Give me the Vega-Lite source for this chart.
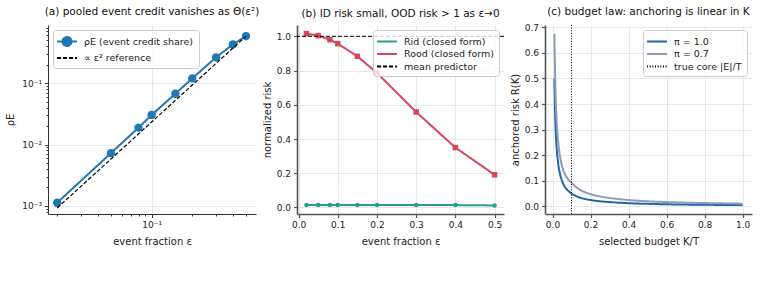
{
  "$schema": "https://vega.github.io/schema/vega-lite/v6.json",
  "background": "white",
  "padding": {"left": 5, "top": 6, "right": 5, "bottom": 5},
  "bounds": "flush",
  "spacing": 41,
  "resolve": {
    "scale": {"color": "independent", "strokeDash": "independent"},
    "legend": {"color": "independent", "strokeDash": "independent"}
  },
  "config": {
    "font": "DejaVu Sans",
    "view": {"stroke": null},
    "axis": {
      "labelFont": "DejaVu Sans",
      "titleFont": "DejaVu Sans",
      "labelFontSize": 9,
      "titleFontSize": 10,
      "labelColor": "#222222",
      "titleColor": "#222222",
      "titleFontWeight": "normal",
      "tickColor": "#333333",
      "domainColor": "#333333",
      "gridColor": "#e8e8e8",
      "tickSize": 3.5,
      "labelPadding": 3,
      "labelOverlap": false
    },
    "title": {"font": "DejaVu Sans", "fontSize": 10.5, "fontWeight": "normal", "color": "#111111", "offset": 6},
    "legend": {
      "title": null,
      "labelFont": "DejaVu Sans",
      "labelFontSize": 9.5,
      "labelColor": "#222222",
      "padding": 5,
      "rowPadding": 1.5,
      "symbolSize": 120,
      "symbolStrokeWidth": 2,
      "labelOffset": 13,
      "strokeColor": "#cccccc",
      "fillColor": "rgba(255,255,255,0.8)",
      "cornerRadius": 3,
      "offset": 5
    }
  },
  "hconcat": [
    {
      "width": 208,
      "height": 189,
      "title": "(a) pooled event credit vanishes as Θ(ε²)",
      "data": {
        "values": [
          {"eps": 0.02, "value": 0.00113, "series": "ρE (event credit share)"},
          {"eps": 0.05, "value": 0.00724, "series": "ρE (event credit share)"},
          {"eps": 0.08, "value": 0.0188, "series": "ρE (event credit share)"},
          {"eps": 0.1, "value": 0.0302, "series": "ρE (event credit share)"},
          {"eps": 0.15, "value": 0.067, "series": "ρE (event credit share)"},
          {"eps": 0.2, "value": 0.119, "series": "ρE (event credit share)"},
          {"eps": 0.3, "value": 0.262, "series": "ρE (event credit share)"},
          {"eps": 0.4, "value": 0.425, "series": "ρE (event credit share)"},
          {"eps": 0.5, "value": 0.581, "series": "ρE (event credit share)"},
          {"eps": 0.02, "value": 0.000928, "series": "∝ ε² reference"},
          {"eps": 0.05, "value": 0.0058, "series": "∝ ε² reference"},
          {"eps": 0.08, "value": 0.01485, "series": "∝ ε² reference"},
          {"eps": 0.1, "value": 0.0232, "series": "∝ ε² reference"},
          {"eps": 0.15, "value": 0.0522, "series": "∝ ε² reference"},
          {"eps": 0.2, "value": 0.0928, "series": "∝ ε² reference"},
          {"eps": 0.3, "value": 0.2088, "series": "∝ ε² reference"},
          {"eps": 0.4, "value": 0.3712, "series": "∝ ε² reference"},
          {"eps": 0.5, "value": 0.58, "series": "∝ ε² reference"}
        ]
      },
      "encoding": {
        "x": {
          "field": "eps", "type": "quantitative",
          "scale": {"type": "log", "domain": [0.0171, 0.593], "nice": false},
          "axis": {
            "title": "event fraction ε",
            "values": [0.02, 0.03, 0.04, 0.05, 0.06, 0.07, 0.08, 0.09, 0.1, 0.2, 0.3, 0.4, 0.5],
            "labelExpr": "datum.value == 0.1 ? '10⁻¹' : ''",
            "grid": true,
            "gridOpacity": {"condition": {"test": "datum.value == 0.1", "value": 1}, "value": 0},
            "tickSize": {"condition": {"test": "datum.value == 0.1", "value": 3.5}, "value": 2},
            "titlePadding": 7
          }
        },
        "y": {
          "field": "value", "type": "quantitative",
          "scale": {"type": "log", "domain": [0.00074, 0.88], "nice": false},
          "axis": {
            "title": "ρE",
            "values": [0.0008, 0.0009, 0.001, 0.002, 0.003, 0.004, 0.005, 0.006, 0.007, 0.008, 0.009, 0.01, 0.02, 0.03, 0.04, 0.05, 0.06, 0.07, 0.08, 0.09, 0.1, 0.2, 0.3, 0.4, 0.5, 0.6, 0.7, 0.8],
            "labelExpr": "datum.value == 0.001 ? '10⁻³' : datum.value == 0.01 ? '10⁻²' : datum.value == 0.1 ? '10⁻¹' : ''",
            "grid": true,
            "gridOpacity": {"condition": {"test": "datum.value == 0.001 || datum.value == 0.01 || datum.value == 0.1", "value": 1}, "value": 0},
            "tickSize": {"condition": {"test": "datum.value == 0.001 || datum.value == 0.01 || datum.value == 0.1", "value": 3.5}, "value": 2},
            "titlePadding": 6
          }
        }
      },
      "layer": [
        {
          "transform": [{"filter": "datum.series === 'ρE (event credit share)'"}],
          "mark": {"type": "line", "strokeWidth": 2},
          "encoding": {
            "color": {
              "field": "series", "type": "nominal",
              "scale": {"domain": ["ρE (event credit share)", "∝ ε² reference"], "range": ["#1f77b4", "#000000"]},
              "legend": {
                "orient": "top-left",
                "encode": {
                  "symbols": {
                    "update": {
                      "shape": {"signal": "datum.value === 'ρE (event credit share)' ? 'M-1.36,0H2.28M1.28,0A0.82,0.82,0,1,1,-0.36,0A0.82,0.82,0,1,1,1.28,0' : 'M-1.36,0H2.28'"},
                      "fill": {"signal": "datum.value === 'ρE (event credit share)' ? '#1f77b4' : 'transparent'"}
                    }
                  }
                }
              }
            },
            "strokeDash": {
              "field": "series", "type": "nominal",
              "scale": {"domain": ["ρE (event credit share)", "∝ ε² reference"], "range": [[1, 0], [4, 2]]}
            }
          }
        },
        {
          "transform": [{"filter": "datum.series === 'ρE (event credit share)'"}],
          "mark": {"type": "point", "filled": true, "size": 70, "opacity": 1},
          "encoding": {"color": {"field": "series", "type": "nominal"}}
        },
        {
          "transform": [{"filter": "datum.series === '∝ ε² reference'"}],
          "mark": {"type": "line", "strokeWidth": 1.2},
          "encoding": {
            "color": {"field": "series", "type": "nominal"},
            "strokeDash": {"field": "series", "type": "nominal"}
          }
        }
      ]
    },
    {
      "width": 207,
      "height": 189,
      "title": "(b) ID risk small, OOD risk > 1 as ε→0",
      "data": {
        "values": [
          {"eps": 0.02, "value": 0.015, "series": "Rid (closed form)"},
          {"eps": 0.05, "value": 0.015, "series": "Rid (closed form)"},
          {"eps": 0.08, "value": 0.015, "series": "Rid (closed form)"},
          {"eps": 0.1, "value": 0.015, "series": "Rid (closed form)"},
          {"eps": 0.15, "value": 0.015, "series": "Rid (closed form)"},
          {"eps": 0.2, "value": 0.015, "series": "Rid (closed form)"},
          {"eps": 0.3, "value": 0.015, "series": "Rid (closed form)"},
          {"eps": 0.4, "value": 0.014, "series": "Rid (closed form)"},
          {"eps": 0.5, "value": 0.012, "series": "Rid (closed form)"},
          {"eps": 0.02, "value": 1.016, "series": "Rood (closed form)"},
          {"eps": 0.05, "value": 1.004, "series": "Rood (closed form)"},
          {"eps": 0.08, "value": 0.98, "series": "Rood (closed form)"},
          {"eps": 0.1, "value": 0.957, "series": "Rood (closed form)"},
          {"eps": 0.15, "value": 0.883, "series": "Rood (closed form)"},
          {"eps": 0.2, "value": 0.786, "series": "Rood (closed form)"},
          {"eps": 0.3, "value": 0.558, "series": "Rood (closed form)"},
          {"eps": 0.4, "value": 0.35, "series": "Rood (closed form)"},
          {"eps": 0.5, "value": 0.191, "series": "Rood (closed form)"}
        ]
      },
      "encoding": {
        "x": {
          "field": "eps", "type": "quantitative",
          "scale": {"domain": [-0.004, 0.524], "nice": false, "zero": false},
          "axis": {
            "title": "event fraction ε",
            "values": [0, 0.1, 0.2, 0.3, 0.4, 0.5],
            "format": ".1f",
            "grid": true,
            "labelOverlap": false,
            "domainColor": "#555555", "domainWidth": 1.6,
            "tickColor": "#555555", "tickWidth": 1.2,
            "titlePadding": 7
          }
        },
        "y": {
          "field": "value", "type": "quantitative",
          "scale": {"domain": [-0.038, 1.066], "nice": false, "zero": false},
          "axis": {
            "title": "normalized risk",
            "values": [0, 0.2, 0.4, 0.6, 0.8, 1.0],
            "format": ".1f",
            "grid": true,
            "labelOverlap": false,
            "domainColor": "#555555", "domainWidth": 1.6,
            "tickColor": "#555555", "tickWidth": 1.2,
            "titlePadding": 4
          }
        }
      },
      "layer": [
        {
          "mark": {"type": "line", "strokeWidth": 2},
          "encoding": {
            "color": {
              "field": "series", "type": "nominal",
              "scale": {"domain": ["Rid (closed form)", "Rood (closed form)", "mean predictor"], "range": ["#2a9d8f", "#d1495b", "#000000"]},
              "legend": {
                "orient": "top-right",
                "symbolType": "M-1.36,0H2.28",
                "encode": {"symbols": {"update": {"shape": {"value": "M-1.36,0H2.28"}, "fill": {"value": "transparent"}}}}
              }
            },
            "strokeDash": {
              "field": "series", "type": "nominal",
              "scale": {"domain": ["Rid (closed form)", "Rood (closed form)", "mean predictor"], "range": [[1, 0], [1, 0], [4, 2]]}
            }
          }
        },
        {
          "transform": [{"filter": "datum.series === 'Rid (closed form)'"}],
          "mark": {"type": "point", "shape": "circle", "filled": true, "size": 20, "opacity": 1},
          "encoding": {"color": {"field": "series", "type": "nominal"}}
        },
        {
          "transform": [{"filter": "datum.series === 'Rood (closed form)'"}],
          "mark": {"type": "point", "shape": "square", "filled": true, "size": 30, "opacity": 1},
          "encoding": {"color": {"field": "series", "type": "nominal"}}
        },
        {
          "data": {"values": [{"value": 1.0, "series": "mean predictor"}]},
          "mark": {"type": "rule", "strokeWidth": 1},
          "encoding": {
            "x": null,
            "color": {"field": "series", "type": "nominal"},
            "strokeDash": {"field": "series", "type": "nominal"}
          }
        }
      ]
    },
    {
      "width": 207,
      "height": 189,
      "title": "(c) budget law: anchoring is linear in K",
      "data": {
        "values": [
          {"k": 0.01, "risk": 0.5, "series": "π = 1.0"},
          {"k": 0.015, "risk": 0.333, "series": "π = 1.0"},
          {"k": 0.02, "risk": 0.25, "series": "π = 1.0"},
          {"k": 0.025, "risk": 0.2, "series": "π = 1.0"},
          {"k": 0.03, "risk": 0.167, "series": "π = 1.0"},
          {"k": 0.04, "risk": 0.125, "series": "π = 1.0"},
          {"k": 0.05, "risk": 0.1, "series": "π = 1.0"},
          {"k": 0.06, "risk": 0.083, "series": "π = 1.0"},
          {"k": 0.07, "risk": 0.071, "series": "π = 1.0"},
          {"k": 0.08, "risk": 0.0625, "series": "π = 1.0"},
          {"k": 0.1, "risk": 0.05, "series": "π = 1.0"},
          {"k": 0.12, "risk": 0.042, "series": "π = 1.0"},
          {"k": 0.15, "risk": 0.033, "series": "π = 1.0"},
          {"k": 0.2, "risk": 0.025, "series": "π = 1.0"},
          {"k": 0.25, "risk": 0.02, "series": "π = 1.0"},
          {"k": 0.3, "risk": 0.017, "series": "π = 1.0"},
          {"k": 0.4, "risk": 0.0125, "series": "π = 1.0"},
          {"k": 0.5, "risk": 0.01, "series": "π = 1.0"},
          {"k": 0.6, "risk": 0.0083, "series": "π = 1.0"},
          {"k": 0.7, "risk": 0.0071, "series": "π = 1.0"},
          {"k": 0.8, "risk": 0.0063, "series": "π = 1.0"},
          {"k": 0.9, "risk": 0.0056, "series": "π = 1.0"},
          {"k": 1.0, "risk": 0.005, "series": "π = 1.0"},
          {"k": 0.01, "risk": 0.675, "series": "π = 0.7"},
          {"k": 0.015, "risk": 0.469, "series": "π = 0.7"},
          {"k": 0.02, "risk": 0.362, "series": "π = 0.7"},
          {"k": 0.025, "risk": 0.296, "series": "π = 0.7"},
          {"k": 0.03, "risk": 0.251, "series": "π = 0.7"},
          {"k": 0.04, "risk": 0.194, "series": "π = 0.7"},
          {"k": 0.05, "risk": 0.158, "series": "π = 0.7"},
          {"k": 0.06, "risk": 0.135, "series": "π = 0.7"},
          {"k": 0.07, "risk": 0.12, "series": "π = 0.7"},
          {"k": 0.08, "risk": 0.108, "series": "π = 0.7"},
          {"k": 0.1, "risk": 0.092, "series": "π = 0.7"},
          {"k": 0.12, "risk": 0.078, "series": "π = 0.7"},
          {"k": 0.15, "risk": 0.063, "series": "π = 0.7"},
          {"k": 0.2, "risk": 0.048, "series": "π = 0.7"},
          {"k": 0.25, "risk": 0.039, "series": "π = 0.7"},
          {"k": 0.3, "risk": 0.033, "series": "π = 0.7"},
          {"k": 0.4, "risk": 0.025, "series": "π = 0.7"},
          {"k": 0.5, "risk": 0.02, "series": "π = 0.7"},
          {"k": 0.6, "risk": 0.017, "series": "π = 0.7"},
          {"k": 0.7, "risk": 0.0147, "series": "π = 0.7"},
          {"k": 0.8, "risk": 0.0131, "series": "π = 0.7"},
          {"k": 0.9, "risk": 0.0118, "series": "π = 0.7"},
          {"k": 1.0, "risk": 0.0107, "series": "π = 0.7"}
        ]
      },
      "layer": [
        {
          "mark": {"type": "line", "strokeWidth": 2, "interpolate": "monotone"},
          "encoding": {
            "x": {
              "field": "k", "type": "quantitative",
              "scale": {"domain": [-0.0395, 1.0495], "nice": false, "zero": false},
              "axis": {
                "title": "selected budget K/T",
                "values": [0, 0.2, 0.4, 0.6, 0.8, 1.0],
                "format": ".1f",
                "grid": true,
                "domainColor": "#555555", "domainWidth": 1.6,
                "tickColor": "#555555", "tickWidth": 1.2,
                "titlePadding": 7
              }
            },
            "y": {
              "field": "risk", "type": "quantitative",
              "scale": {"domain": [-0.0297, 0.709], "nice": false, "zero": false},
              "axis": {
                "title": "anchored risk R(K)",
                "values": [0, 0.1, 0.2, 0.3, 0.4, 0.5, 0.6, 0.7],
                "format": ".1f",
                "grid": true,
                "domainColor": "#555555", "domainWidth": 1.6,
                "tickColor": "#555555", "tickWidth": 1.2,
                "titlePadding": 4
              }
            },
            "color": {
              "field": "series", "type": "nominal",
              "scale": {"domain": ["π = 1.0", "π = 0.7", "true core |E|/T"], "range": ["#1f65a8", "#8d9db8", "#000000"]},
              "legend": {
                "orient": "top-right",
                "symbolType": "M-1.36,0H2.28",
                "encode": {"symbols": {"update": {"shape": {"value": "M-1.36,0H2.28"}, "fill": {"value": "transparent"}}}}
              }
            },
            "strokeDash": {
              "field": "series", "type": "nominal",
              "scale": {"domain": ["π = 1.0", "π = 0.7", "true core |E|/T"], "range": [[1, 0], [1, 0], [1, 1.65]]}
            }
          }
        },
        {
          "data": {"values": [{"k": 0.1, "series": "true core |E|/T"}]},
          "mark": {"type": "rule", "strokeWidth": 1},
          "encoding": {
            "x": {"field": "k", "type": "quantitative"},
            "color": {"field": "series", "type": "nominal"},
            "strokeDash": {"field": "series", "type": "nominal"}
          }
        }
      ]
    }
  ]
}
